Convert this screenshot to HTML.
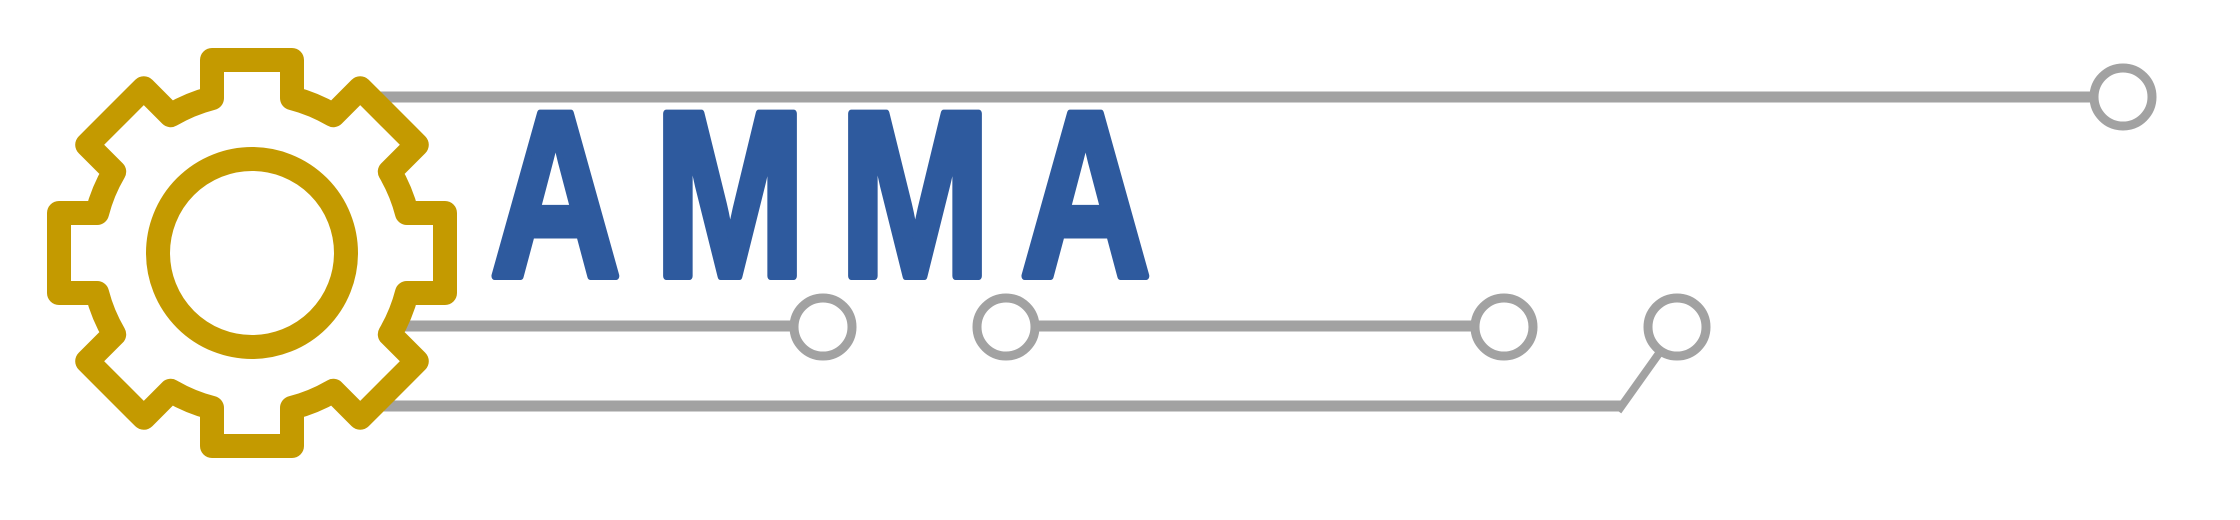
<!DOCTYPE html>
<html><head><meta charset="utf-8"><title>AMMA logo</title>
<style>
html,body{margin:0;padding:0;background:#fff;}
svg{display:block;}
</style></head>
<body>
<svg id="logo" width="2240" height="520" viewBox="0 0 2240 520" xmlns="http://www.w3.org/2000/svg">
  <g stroke="#a2a2a2" fill="none">
    <line x1="380" y1="97" x2="2094" y2="97" stroke-width="11"/>
    <circle cx="2123" cy="97" r="29" stroke-width="9"/>
    <line x1="400" y1="326" x2="794" y2="326" stroke-width="11"/>
    <circle cx="823" cy="327" r="29" stroke-width="9"/>
    <circle cx="1006" cy="327" r="29" stroke-width="9"/>
    <line x1="1035" y1="326" x2="1475" y2="326" stroke-width="11"/>
    <circle cx="1504" cy="327" r="29" stroke-width="9"/>
    <circle cx="1677" cy="327" r="29" stroke-width="9"/>
    <polyline points="380,406 1621,406" stroke-width="11"/>
    <polyline points="1618,411 1660,352" stroke-width="8"/>
  </g>
  <path id="gear" fill="none" stroke="#c49a00" stroke-width="24" stroke-linejoin="round"/>
  <circle cx="252" cy="253" r="94" fill="none" stroke="#c49a00" stroke-width="24"/>
  <g font-family="'Liberation Sans', sans-serif" font-weight="bold" font-size="236" fill="#2e5a9e" stroke="#2e5a9e" stroke-width="8" stroke-linejoin="round">
    <text x="490" y="276" textLength="131" lengthAdjust="spacingAndGlyphs">A</text>
    <text x="654" y="276" textLength="152" lengthAdjust="spacingAndGlyphs">M</text>
    <text x="839" y="276" textLength="152" lengthAdjust="spacingAndGlyphs">M</text>
    <text x="1020" y="276" textLength="131" lengthAdjust="spacingAndGlyphs">A</text>
    <text x="1178" y="276" fill="#ffffff" stroke="none" textLength="900" lengthAdjust="spacingAndGlyphs">VATIONS</text>
  </g>
</svg>
<script>
(function(){
  var cx=252, cy=253, rBody=160, rTip=193, hw=40, n=8;
  var d='';
  var baseOff=Math.sqrt(rBody*rBody-hw*hw);
  for(var i=0;i<n;i++){
    var a=-Math.PI/2 + i*2*Math.PI/n;
    var dx=Math.cos(a), dy=Math.sin(a), px=-dy, py=dx;
    var b1=[cx+dx*baseOff-px*hw, cy+dy*baseOff-py*hw];
    var t1=[cx+dx*rTip-px*hw, cy+dy*rTip-py*hw];
    var t2=[cx+dx*rTip+px*hw, cy+dy*rTip+py*hw];
    var b2=[cx+dx*baseOff+px*hw, cy+dy*baseOff+py*hw];
    if(i===0){ d+='M'+b1[0].toFixed(1)+','+b1[1].toFixed(1); }
    else { d+=' A'+rBody+','+rBody+' 0 0 1 '+b1[0].toFixed(1)+','+b1[1].toFixed(1); }
    d+=' L'+t1[0].toFixed(1)+','+t1[1].toFixed(1)+' L'+t2[0].toFixed(1)+','+t2[1].toFixed(1)+' L'+b2[0].toFixed(1)+','+b2[1].toFixed(1);
  }
  var a0=-Math.PI/2, dx0=Math.cos(a0), dy0=Math.sin(a0);
  var s=[cx+dx0*baseOff+dy0*hw, cy+dy0*baseOff-dx0*hw];
  d+=' A'+rBody+','+rBody+' 0 0 1 '+s[0].toFixed(1)+','+s[1].toFixed(1)+' Z';
  document.getElementById('gear').setAttribute('d', d);
})();
</script>
</body></html>
